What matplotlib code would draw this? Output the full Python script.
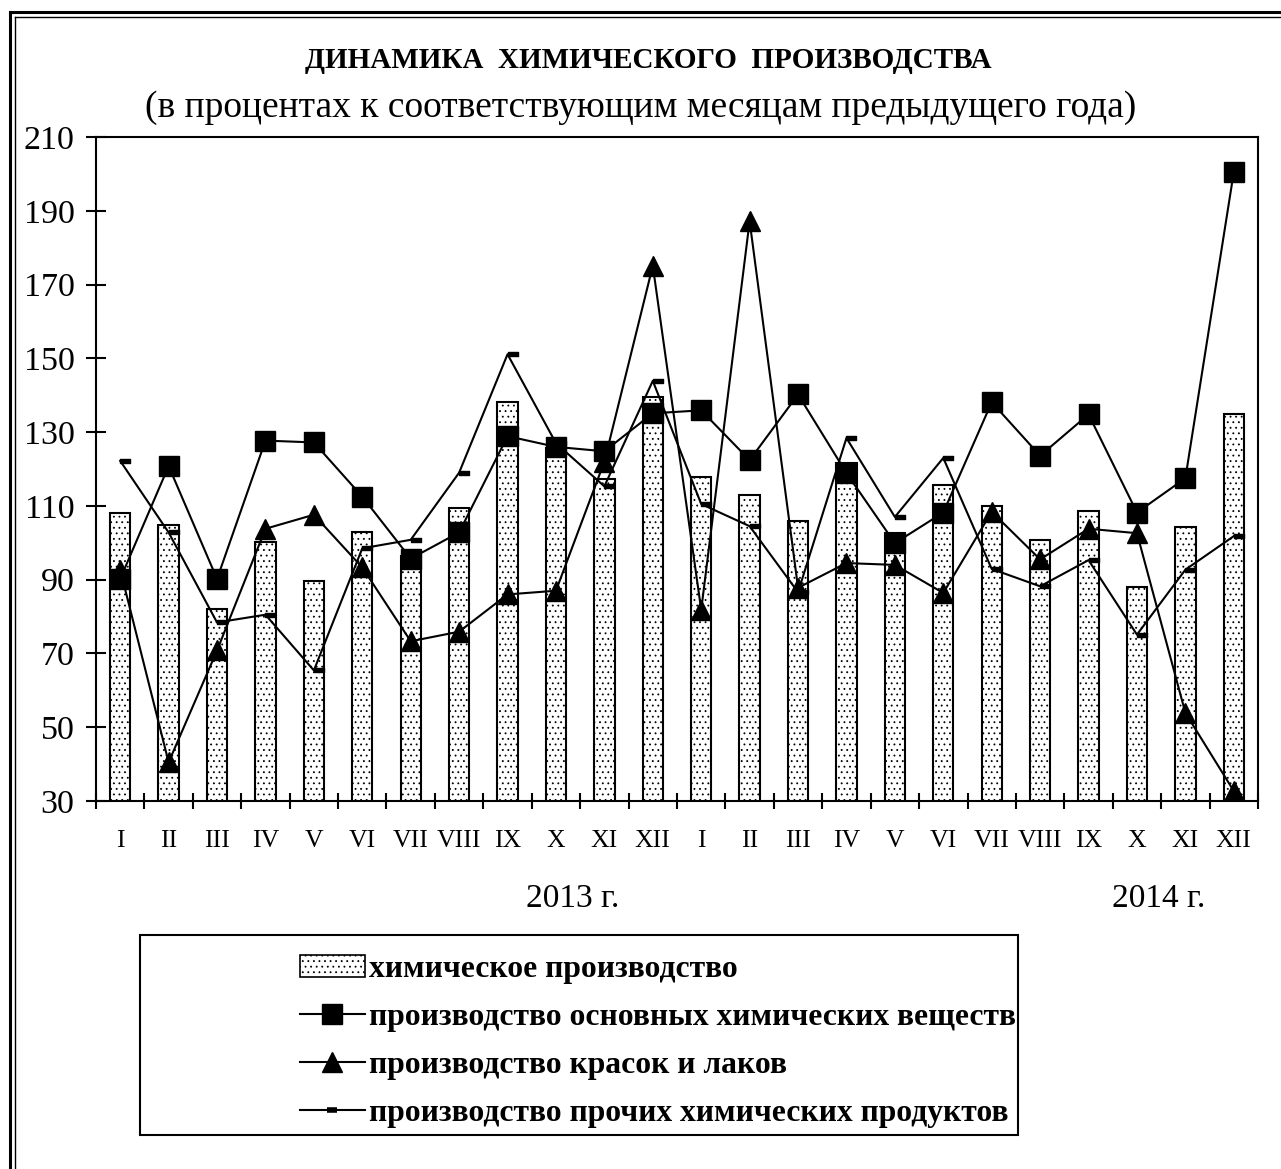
import numpy as np
import matplotlib
matplotlib.use("Agg")
from matplotlib import pyplot as plt
from matplotlib.lines import Line2D
from matplotlib.patches import Rectangle, Patch
from matplotlib.path import Path

plt.rcParams['font.family'] = ['Liberation Serif', 'DejaVu Serif']
plt.rcParams['hatch.linewidth'] = 0.6

# data: % to the same month of the previous year
months = ['I', 'II', 'III', 'IV', 'V', 'VI', 'VII', 'VIII', 'IX', 'X', 'XI', 'XII'] * 2
chem = [108.2, 104.9, 82.0, 100.2, 89.6, 102.8, 96.5, 109.3, 138.1, 125.8, 117.4, 139.6,
        117.9, 112.9, 105.9, 121.5, 102.6, 115.7, 109.9, 100.7, 108.7, 88.1, 104.4, 134.8]
basic = [90.2, 120.8, 90.2, 127.7, 127.2, 112.5, 95.7, 102.8, 128.9, 126.0, 124.8, 135.1,
         135.9, 122.4, 140.2, 118.9, 99.9, 108.2, 138.1, 123.6, 134.8, 108.2, 117.5, 200.5]
paints = [92.7, 40.5, 70.8, 103.8, 107.6, 93.3, 73.3, 75.9, 86.0, 87.0, 122.0, 175.1,
          81.8, 187.2, 87.8, 94.5, 94.0, 86.4, 108.4, 95.5, 103.8, 102.6, 53.9, 32.7]
other = [122.2, 102.8, 78.4, 80.5, 65.4, 98.5, 100.8, 119.0, 151.1, 127.0, 115.3, 143.9,
         110.5, 104.5, 86.6, 128.4, 107.0, 123.0, 92.9, 88.2, 95.3, 75.1, 92.7, 101.8]
years = ['2013 г.', '2014 г.']
labels = ['химическое производство',
          'производство основных химических веществ',
          'производство красок и лаков',
          'производство прочих химических продуктов']

W, H = 1281, 1169
fig = plt.figure(figsize=(W / 100, H / 100), dpi=100)

# double frame on the left and top
for x0, lw in ((10, 2.2), (15, 1.0)):
    fig.add_artist(Line2D([x0 / W, x0 / W], [0, 1 - (x0 + 2) / H], transform=fig.transFigure,
                          color='black', lw=lw))
    fig.add_artist(Line2D([x0 / W, 1], [1 - (x0 + 2) / H, 1 - (x0 + 2) / H],
                          transform=fig.transFigure, color='black', lw=lw))

ax = fig.add_axes([96 / W, 1 - 801 / H, (1258 - 96) / W, (801 - 137) / H])
x = np.arange(len(months))

ax.bar(x, chem, width=0.42, bottom=0, color='white', edgecolor='black', linewidth=1.5,
       hatch='...', zorder=2)

# short dash to the right of the point, like the Excel marker
dash = Path([(0, -0.18), (1, -0.18), (1, 0.18), (0, 0.18), (0, -0.18)],
            [Path.MOVETO, Path.LINETO, Path.LINETO, Path.LINETO, Path.CLOSEPOLY])

ax.plot(x, other, color='black', lw=1.5, marker=dash, markersize=14, zorder=3)
ax.plot(x, paints, color='black', lw=1.5, marker='^', markersize=15, zorder=4)
ax.plot(x, basic, color='black', lw=1.5, marker='s', markersize=14, zorder=5)

ax.set_xlim(-0.5, len(months) - 0.5)
ax.set_ylim(30, 210)
ax.set_yticks(np.arange(30, 211, 20))
ax.set_xticks(x)
ax.set_xticklabels(months)
ax.set_xticks(np.arange(-0.5, len(months), 1), minor=True)
ax.tick_params(axis='x', which='major', length=0, pad=21, labelsize=18.5)
ax.tick_params(axis='x', which='minor', direction='inout', length=12, width=1.5)
ax.tick_params(axis='y', direction='inout', length=15, width=1.5, pad=8, labelsize=24.5)
for s in ax.spines.values():
    s.set_linewidth(1.5)

fig.text(573 / W, 1 - 899 / H, years[0], ha='center', va='center', fontsize=24)
fig.text(1159 / W, 1 - 899 / H, years[1], ha='center', va='center', fontsize=24)

fig.text(648 / W, 1 - 60 / H, 'ДИНАМИКА  ХИМИЧЕСКОГО  ПРОИЗВОДСТВА', ha='center', va='center',
         fontsize=21, fontweight='bold')
fig.text(641 / W, 1 - 108 / H, '(в процентах к соответствующим месяцам предыдущего года)',
         ha='center', va='center', fontsize=27)

# legend
fig.add_artist(Rectangle((140 / W, 1 - 1135 / H), 878 / W, 200 / H, transform=fig.transFigure,
                         fill=False, edgecolor='black', lw=1.5))
handles = [Patch(facecolor='white', edgecolor='black', hatch='...', lw=1.2),
           Line2D([], [], color='black', lw=1.5, marker='s', markersize=14),
           Line2D([], [], color='black', lw=1.5, marker='^', markersize=15),
           Line2D([], [], color='black', lw=1.5, marker='_', markersize=7, mew=4)]
fig.legend(handles, labels, loc='upper left', bbox_to_anchor=(300 / W, 1 - 955 / H),
           frameon=False, borderpad=0, borderaxespad=0, handlelength=2.04, handleheight=0.7,
           handletextpad=0.15, labelspacing=0.59, prop={'weight': 'bold', 'size': 22.8})

fig.savefig('out.png', dpi=100)
